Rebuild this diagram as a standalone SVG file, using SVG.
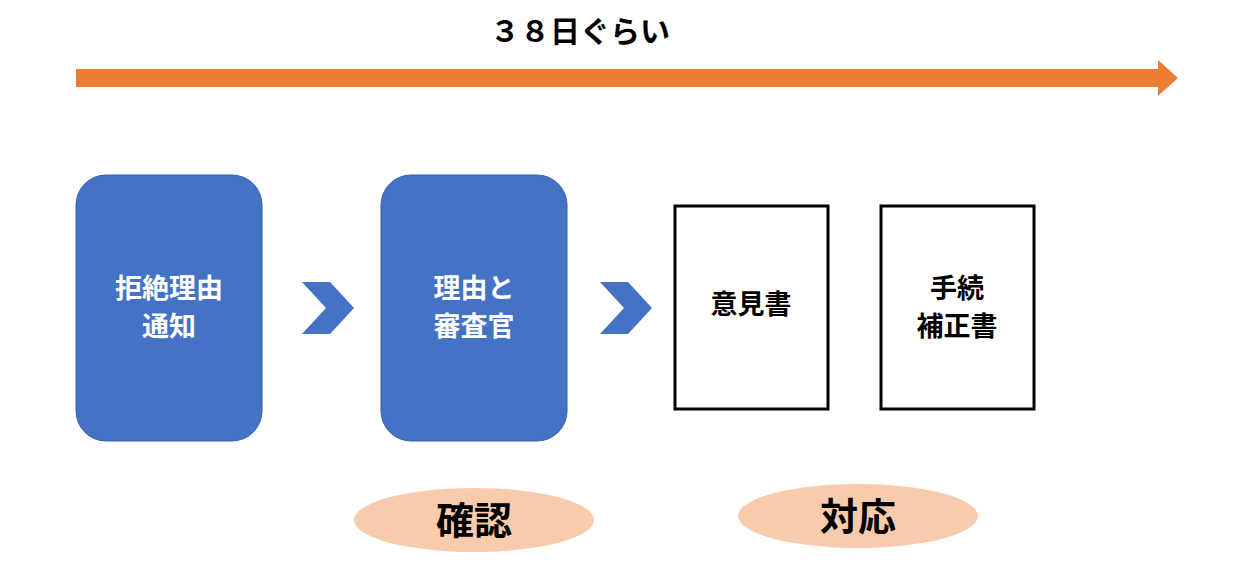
<svg xmlns="http://www.w3.org/2000/svg" width="1248" height="566" viewBox="0 0 1248 566">
<style>
.t{font-family:"Noto Sans CJK JP",sans-serif;font-weight:bold;text-anchor:middle}
.w{fill:#fff;font-size:27px}
.b{fill:#000;font-size:27px}
.blue{fill:#4472c4;stroke:#3a62a8;stroke-width:1}
.doc{fill:#fff;stroke:#000;stroke-width:3}
.ov{fill:#f8cbad}
.chev{fill:#4472c4}
</style>
<rect width="1248" height="566" fill="#fff"/>
<text class="t" x="580" y="42" font-size="30" fill="#000">３８日ぐらい</text>
<g id="connectors">
<rect x="76" y="69" width="1084" height="18" fill="#ed7d31"/>
<polygon points="1158,60 1178,78 1158,96" fill="#ed7d31"/>
<polygon class="chev" points="302,282 330,282 354,308 330,334 302,334 326,308"/>
<polygon class="chev" points="600,282 628,282 652,308 628,334 600,334 624,308"/>
</g>
<g id="n1"><rect class="blue" x="76" y="175" width="186" height="266" rx="30"/>
<text class="t w" x="169" y="298">拒絶理由</text><text class="t w" x="169" y="336">通知</text></g>
<g id="n2"><rect class="blue" x="381" y="175" width="186" height="266" rx="30"/>
<text class="t w" x="474" y="298">理由と</text><text class="t w" x="474" y="336">審査官</text></g>
<g id="n3"><rect class="doc" x="675" y="206" width="153" height="203"/>
<text class="t b" x="751" y="314">意見書</text></g>
<g id="n4"><rect class="doc" x="881" y="206" width="153" height="203"/>
<text class="t b" x="957" y="298">手続</text><text class="t b" x="957" y="336">補正書</text></g>
<g id="o1"><ellipse class="ov" cx="474" cy="520" rx="120" ry="32"/>
<text class="t" x="474" y="534" font-size="38" fill="#000">確認</text></g>
<g id="o2"><ellipse class="ov" cx="858" cy="516" rx="120" ry="32"/>
<text class="t" x="858" y="530" font-size="38" fill="#000">対応</text></g>
</svg>
